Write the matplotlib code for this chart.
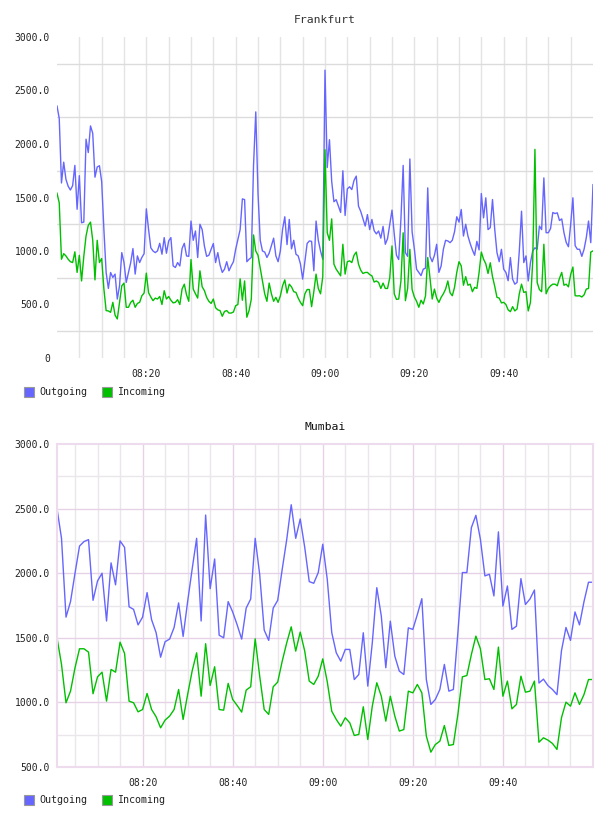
import pandas as pd
import matplotlib
matplotlib.use("Agg")
import matplotlib.pyplot as plt
import matplotlib.dates as mdates
from matplotlib.patches import Rectangle

# Frankfurt, one sample every 30 s from 08:00
fra_out = [2355, 2240, 1636, 1830, 1670, 1605, 1570, 1611, 1800, 1390,
           1704, 1264, 1270, 2045, 1920, 2169, 2100, 1690, 1785, 1797,
           1650, 1200, 800, 650, 799, 753, 784, 551, 675, 985,
           892, 706, 800, 892, 1023, 784, 954, 892, 940, 975,
           1394, 1202, 1030, 1000, 985, 1001, 1072, 970, 1125, 979,
           1094, 1125, 861, 846, 892, 860, 1023, 1072, 954, 950,
           1280, 1100, 1187, 939, 1250, 1200, 1047, 950, 960, 1016,
           1070, 892, 985, 870, 800, 830, 900, 815, 861, 900,
           1016, 1109, 1200, 1487, 1480, 900, 923, 939, 1800, 2300,
           1540, 1100, 1000, 990, 940, 980, 1050, 1120, 954, 900,
           1000, 1202, 1320, 1060, 1295, 1020, 1100, 970, 954, 880,
           737, 900, 1070, 1094, 1090, 815, 1280, 1100, 1000, 923,
           2690, 1780, 2040, 1650, 1460, 1480, 1419, 1360, 1750, 1332,
           1580, 1600, 1574, 1660, 1700, 1419, 1370, 1300, 1233, 1340,
           1200, 1295, 1190, 1160, 1187, 1120, 1230, 1063, 1115, 1250,
           1382, 1160, 960, 920, 1300, 1800, 985, 950, 1860, 1180,
           1020, 830, 800, 770, 830, 840, 1590, 950, 900, 960,
           1063, 800, 860, 1016, 1100, 1094, 1078, 1100, 1180, 1320,
           1270, 1388, 1140, 1250, 1140, 1070, 1010, 960, 1090, 1010,
           1537, 1310, 1497, 1200, 1218, 1481, 1202, 985, 900, 1016,
           830, 800, 722, 939, 737, 690, 706, 1000, 1372, 892,
           954, 720, 892, 1000, 1030, 1016, 1233, 1200, 1683, 1171,
           1171, 1210, 1360, 1350, 1357, 1285, 1300, 1171, 1080, 1040,
           1249, 1497, 1050, 1016, 1016, 950, 1016, 1125, 1280, 1078, 1620]

fra_in = [1540, 1450, 923, 975, 954, 923, 900, 892, 992, 800,
          960, 720, 950, 1140, 1240, 1270, 1100, 730, 1100, 892,
          930, 644, 443, 440, 427, 520, 400, 365, 520, 675,
          700, 474, 474, 520, 540, 474, 510, 520, 582, 607,
          793, 610, 570, 536, 560, 551, 575, 500, 629, 551,
          575, 540, 515, 520, 545, 500, 644, 690, 590, 530,
          920, 644, 600, 560, 815, 665, 630, 567, 530, 510,
          551, 470, 450, 443, 390, 435, 443, 420, 420, 430,
          489, 500, 740, 540, 720, 381, 443, 550, 1150, 1000,
          960, 840, 722, 600, 530, 700, 600, 530, 567, 520,
          580, 675, 730, 607, 690, 665, 620, 613, 560, 520,
          489, 600, 640, 640, 480, 620, 784, 650, 600, 760,
          1946, 1171, 1100, 1300, 877, 830, 800, 768, 1063, 784,
          900, 908, 892, 960, 990, 877, 820, 790, 799, 800,
          780, 768, 710, 720, 706, 650, 700, 650, 650, 750,
          1047, 600, 548, 551, 720, 1170, 536, 650, 1016, 640,
          570, 530, 474, 540, 505, 580, 939, 750, 551, 644,
          560, 520, 567, 600, 644, 720, 610, 582, 660, 800,
          900, 861, 680, 760, 680, 690, 620, 660, 650, 800,
          990, 923, 880, 790, 890, 760, 670, 567, 560, 515,
          520, 500, 450, 433, 480, 440, 458, 600, 690, 613,
          620, 440, 520, 900, 1950, 706, 640, 620, 1063, 600,
          650, 675, 690, 690, 675, 745, 800, 680, 690, 665,
          780, 850, 582, 580, 582, 570, 590, 644, 650, 990, 1001]

# Mumbai, one sample per minute from 08:01
mum_out = [2500, 2270, 1660, 1780, 2000, 2210, 2245, 2260, 1790, 1940,
           2000, 1630, 2080, 1910, 2250, 2200, 1740, 1720, 1600, 1660,
           1850, 1640, 1540, 1350, 1470, 1490, 1580, 1770, 1510, 1780,
           2030, 2270, 1630, 2450, 1880, 2110, 1520, 1500, 1780, 1700,
           1600, 1490, 1730, 1800, 2270, 1990, 1560, 1480, 1730, 1790,
           2030, 2260, 2530, 2270, 2420, 2200, 1935, 1922, 2005, 2224,
           1953, 1540, 1384, 1319, 1410, 1410, 1177, 1216, 1539, 1126,
           1461, 1888, 1668, 1268, 1629, 1358, 1242, 1216, 1577, 1565,
           1680, 1803, 1177, 984, 1023, 1100, 1294, 1087, 1100, 1539,
           2005, 2005, 2353, 2448, 2263, 1979, 1992, 1824, 2320, 1745,
           1901, 1565, 1590, 1958, 1758, 1800, 1870, 1150, 1180, 1130,
           1100, 1060, 1400, 1580, 1480, 1700, 1600, 1780, 1930, 1930]

mum_in = [1500, 1294, 997, 1087, 1268, 1415, 1415, 1389, 1067, 1198,
          1234, 1010, 1255, 1234, 1466, 1379, 1010, 997, 927, 945,
          1069, 945, 889, 803, 863, 894, 945, 1100, 868, 1061,
          1242, 1384, 1048, 1454, 1131, 1276, 945, 940, 1147, 1023,
          976, 925, 1095, 1121, 1492, 1203, 945, 907, 1121, 1157,
          1319, 1461, 1585, 1397, 1544, 1397, 1165, 1139, 1203, 1337,
          1160, 932, 868, 816, 881, 842, 744, 752, 966, 713,
          971, 1152, 1048, 855, 1048, 894, 778, 790, 1087, 1074,
          1139, 1074, 739, 615, 674, 700, 821, 667, 674, 907,
          1198, 1208, 1371, 1513, 1415, 1177, 1183, 1100, 1428, 1048,
          1165, 950, 984, 1203, 1079, 1087, 1165, 692, 726, 708,
          682, 636, 881, 1002, 971, 1074, 984, 1061, 1177, 1177]

tick_times = ["08:20", "08:40", "09:00", "09:20", "09:40"]
series_names = ["Outgoing", "Incoming"]

day = "2024-01-01 "
fra_time = pd.date_range(day + "08:00", periods=len(fra_out), freq="30s")
mum_time = pd.date_range(day + "08:01", periods=len(mum_out), freq="1min")
major_x = [pd.Timestamp(day + t) for t in tick_times]
minor_x = list(pd.date_range(day + "08:05", day + "09:55", freq="5min"))

blue = "#6666ff"
green = "#00c000"
font = "DejaVu Sans Mono"
plt.rcParams["font.family"] = font

fig = plt.figure(figsize=(6.08, 8.16), dpi=100)
W, H = 608, 816


def box(x0, y_top, x1, y_bot):
    return [x0 / W, 1 - y_bot / H, (x1 - x0) / W, (y_bot - y_top) / H]


def legend(y):
    for i, (name, col) in enumerate(zip(series_names, [blue, green])):
        x0 = 24 + i * 78
        fig.patches.append(Rectangle((x0 / W, 1 - (y + 5) / H), 10 / W, 10 / H,
                                     transform=fig.transFigure, facecolor=col,
                                     edgecolor="#999999", linewidth=0.8))
        fig.text((x0 + 15) / W, 1 - y / H, name, fontsize=7.2, color="#222222",
                 va="center", ha="left")


def style(ax, ylim, yticks, ylabels):
    ax.set_xlim(ax.lines[0].get_xdata()[0], ax.lines[0].get_xdata()[-1])
    ax.set_ylim(*ylim)
    ax.set_xticks(major_x)
    ax.xaxis.set_major_formatter(mdates.DateFormatter("%H:%M"))
    ax.set_yticks(yticks)
    ax.set_yticklabels(ylabels)
    ax.tick_params(which="both", length=0, labelsize=7, colors="#222222")
    ax.tick_params(axis="x", pad=8)
    ax.tick_params(axis="y", pad=5)
    ax.set_axisbelow(True)


# Frankfurt
ax1 = fig.add_axes(box(57, 37, 593, 358))
ax1.plot(fra_time, fra_out, color=blue, lw=1.0)
ax1.plot(fra_time, fra_in, color=green, lw=1.0)
style(ax1, (0, 3000), list(range(0, 3001, 500)),
      ["0"] + [f"{v:.1f}" for v in range(500, 3001, 500)])
for t in minor_x:
    ax1.axvline(t, color="#e4e4e4", lw=1.0, zorder=0)
for v in range(250, 3000, 500):
    ax1.axhline(v, color="#dcdcdc", lw=1.0, zorder=0)
for s in ax1.spines.values():
    s.set_visible(False)
ax1.set_title("Frankfurt", fontsize=8.2, color="#333333", pad=10)
legend(392)

# Mumbai
ax2 = fig.add_axes(box(57, 444, 593, 767))
ax2.plot(mum_time, mum_out, color=blue, lw=1.0)
ax2.plot(mum_time, mum_in, color=green, lw=1.0)
style(ax2, (500, 3000), list(range(500, 3001, 500)),
      [f"{v:.1f}" for v in range(500, 3001, 500)])
for t in minor_x:
    major = t in major_x
    ax2.axvline(t, color="#e6d2e6" if major else "#ebe6eb", lw=1.0, zorder=0)
for v in range(750, 3000, 250):
    ax2.axhline(v, color="#e6d2e6" if v % 500 == 0 else "#ebe6eb", lw=1.0, zorder=0)
for s in ax2.spines.values():
    s.set_color("#eedcee")
    s.set_linewidth(1.5)
ax2.set_title("Mumbai", fontsize=8.2, color="#111111", pad=10)
legend(800)

plt.savefig("out.png", dpi=100)
